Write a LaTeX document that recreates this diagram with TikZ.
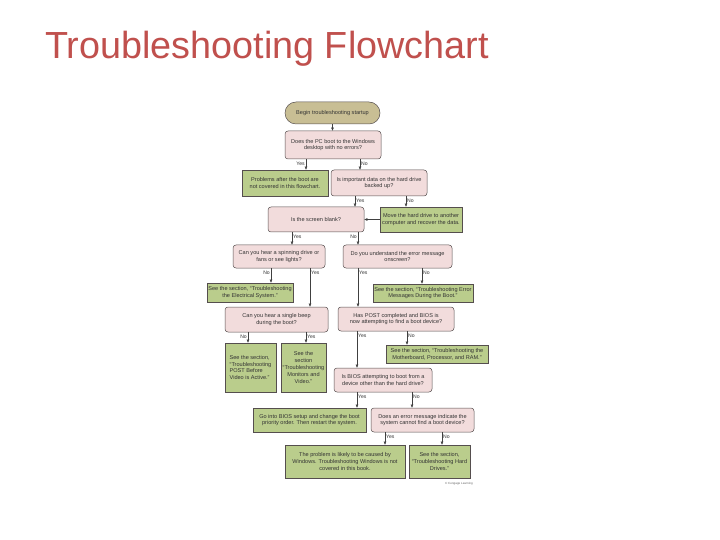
\documentclass[tikz,border=0pt]{standalone}
\usepackage{fontspec}
\setmainfont{Liberation Sans}
\usetikzlibrary{arrows.meta,positioning}

\definecolor{titlered}{RGB}{192,80,77}
\definecolor{qpink}{RGB}{242,220,220}
\definecolor{agreen}{RGB}{186,205,140}
\definecolor{startkhaki}{RGB}{200,190,148}
\definecolor{edgegray}{RGB}{85,78,78}

\begin{document}
\begin{tikzpicture}[
  x=1bp, y=-1bp,
  >={Triangle[length=3.2bp,width=2.6bp]},
  every node/.style={font=\fontsize{5.6}{6.9}\selectfont, text=black!80},
  boxsize/.style 2 args={minimum width=#1bp, minimum height=#2bp},
  qbox/.style={rectangle, draw=edgegray, fill=qpink, rounded corners=3bp,
    align=center, inner sep=1.2bp, line width=0.5bp},
  abox/.style={rectangle, draw=edgegray, fill=agreen, align=center,
    inner sep=1.2bp, line width=0.5bp},
  startbox/.style={rectangle, draw=edgegray, fill=startkhaki, rounded corners=11bp,
    align=center, line width=0.5bp},
  lbl/.style={font=\fontsize{5.1}{6}\selectfont, inner sep=1bp},
  arr/.style={->, line width=0.45bp, draw=black!75},
]
\useasboundingbox (0,0) rectangle (720,540);

% Title
\node[font=\fontsize{37.9}{40}\selectfont, text=titlered, anchor=base west, inner sep=0pt]
  (title) at (45,59) {Troubleshooting Flowchart};

% Question and answer boxes
\node[startbox, boxsize={95}{22}] (start) at (332.5,113) {Begin troubleshooting startup};
\node[qbox, boxsize={96}{28}] (q1) at (333,145) {Does the PC boot to the Windows\\desktop with no errors?};
\node[abox, boxsize={86}{26}] (nocover) at (285,183) {Problems after the boot are\\not covered in this flowchart.};
\node[qbox, boxsize={96}{26}] (q2) at (379,183) {Is important data on the hard drive\\backed up?};
\node[qbox, boxsize={96}{25}] (q3) at (316,219.5) {Is the screen blank?};
\node[abox, boxsize={82}{25}] (move) at (421,219.5) {Move the hard drive to another\\computer and recover the data.};
\node[qbox, boxsize={92}{23}] (q4) at (279,256.5) {Can you hear a spinning drive or\\fans or see lights?};
\node[qbox, boxsize={109}{23}] (q5) at (397.5,256.5) {Do you understand the error message\\onscreen?};
\node[abox, boxsize={86}{19}] (elec) at (250,292.5) {See the section, “Troubleshooting\\the Electrical System.”};
\node[abox, boxsize={98}{18}] (errsec) at (423,293) {See the section, “Troubleshooting Error\\Messages During the Boot.”};
\node[qbox, boxsize={103}{25}] (q6) at (276.5,319.5) {Can you hear a single beep\\during the boot?};
\node[qbox, boxsize={116}{24}] (q7) at (396,319) {Has POST completed and BIOS is\\now attempting to find a boot device?};
\node[abox, boxsize={51}{49}, align=left] (postsec) at (250.5,367.5) {See the section,\\“Troubleshooting\\POST Before\\Video is Active.”};
\node[abox, boxsize={45}{49}] (monsec) at (303.5,367.5) {See the\\section\\“Troubleshooting\\Monitors and\\Video.”};
\node[abox, boxsize={102}{18}] (mobo) at (437,354) {See the section, “Troubleshooting the\\Motherboard, Processor, and RAM.”};
\node[qbox, boxsize={98}{24}] (q8) at (383,380) {Is BIOS attempting to boot from a\\device other than the hard drive?};
\node[abox, boxsize={113}{24}] (setup) at (309.5,420) {Go into BIOS setup and change the boot\\priority order. Then restart the system.};
\node[qbox, boxsize={103}{24}] (q9) at (422.5,420) {Does an error message indicate the\\system cannot find a boot device?};
\node[abox, boxsize={120}{33}] (windows) at (345,461.5) {The problem is likely to be caused by\\Windows. Troubleshooting Windows is not\\covered in this book.};
\node[abox, boxsize={61}{33}] (hdd) at (439.5,461.5) {See the section,\\“Troubleshooting Hard\\Drives.”};

\node[font=\fontsize{3}{3.5}\selectfont, text=black!60, anchor=east, inner sep=0pt]
  (credit) at (473,484) {© Cengage Learning};

% Connectors
\draw[arr] (start.south) -- (start.south |- q1.north);
\draw[arr] (q1.south -| 306,0) -- (nocover.north -| 306,0)
  node[lbl, at start, anchor=north east, yshift=-1.5bp] {Yes};
\draw[arr] (q1.south -| 360,0) -- (q2.north -| 360,0)
  node[lbl, at start, anchor=north west, yshift=-1.5bp] {No};
\draw[arr] (q2.south -| 355,0) -- (q3.north -| 355,0)
  node[lbl, at start, anchor=north west, yshift=-1.5bp] {Yes};
\draw[arr] (q2.south -| 406,0) -- (move.north -| 406,0)
  node[lbl, at start, anchor=north west, yshift=-1.5bp] {No};
\draw[arr] (move.west) -- (q3.east);
\draw[arr] (q3.south -| 292,0) -- (q4.north -| 292,0)
  node[lbl, at start, anchor=north west, yshift=-1.5bp] {Yes};
\draw[arr] (q3.south -| 358,0) -- (q5.north -| 358,0)
  node[lbl, at start, anchor=north east, yshift=-1.5bp] {No};
\draw[arr] (q4.south -| 271,0) -- (elec.north -| 271,0)
  node[lbl, at start, anchor=north east, yshift=-1.5bp] {No};
\draw[arr] (q4.south -| 310,0) -- (q6.north -| 310,0)
  node[lbl, at start, anchor=north west, yshift=-1.5bp] {Yes};
\draw[arr] (q5.south -| 358,0) -- (q7.north -| 358,0)
  node[lbl, at start, anchor=north west, yshift=-1.5bp] {Yes};
\draw[arr] (q5.south -| 422,0) -- (errsec.north -| 422,0)
  node[lbl, at start, anchor=north west, yshift=-1.5bp] {No};
\draw[arr] (q6.south -| 248,0) -- (postsec.north -| 248,0)
  node[lbl, at start, anchor=north east, yshift=-1.5bp] {No};
\draw[arr] (q6.south -| 306,0) -- (monsec.north -| 306,0)
  node[lbl, at start, anchor=north west, yshift=-1.5bp] {Yes};
\draw[arr] (q7.south -| 357,0) -- (q8.north -| 357,0)
  node[lbl, at start, anchor=north west, yshift=-1.5bp] {Yes};
\draw[arr] (q7.south -| 407,0) -- (mobo.north -| 407,0)
  node[lbl, at start, anchor=north west, yshift=-1.5bp] {No};
\draw[arr] (q8.south -| 357,0) -- (setup.north -| 357,0)
  node[lbl, at start, anchor=north west, yshift=-1.5bp] {Yes};
\draw[arr] (q8.south -| 412,0) -- (q9.north -| 412,0)
  node[lbl, at start, anchor=north west, yshift=-1.5bp] {No};
\draw[arr] (q9.south -| 385,0) -- (windows.north -| 385,0)
  node[lbl, at start, anchor=north west, yshift=-1.5bp] {Yes};
\draw[arr] (q9.south -| 442,0) -- (hdd.north -| 442,0)
  node[lbl, at start, anchor=north west, yshift=-1.5bp] {No};

\end{tikzpicture}
\end{document}
